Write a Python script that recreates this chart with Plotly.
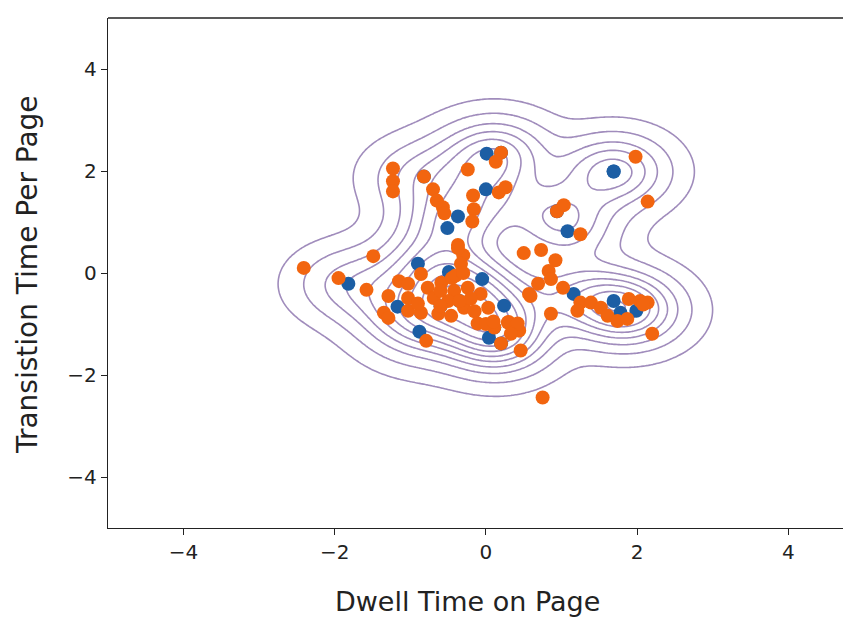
import numpy as np
import plotly.graph_objects as go

# Blue class points (Dwell Time, Transition Time); the last eight lie hidden under other markers
blue_x = [0.01, 0.0, -0.37, -0.51, 1.69, 1.08, -0.90, -0.49, -0.05, 0.24, -1.82, -1.17, -0.88, 0.04, 1.16, 1.69, 1.78, 1.99,
          -0.82, -0.60, -0.35, 0.11, 0.20, 0.94, 0.20, 1.69]
blue_y = [2.34, 1.64, 1.11, 0.88, 1.99, 0.82, 0.18, 0.02, -0.12, -0.64, -0.21, -0.66, -1.15, -1.27, -0.41, -0.55, -0.78, -0.74,
          1.89, -0.65, -0.55, -1.07, -1.38, 1.21, 2.36, 1.99]

# Orange class points
orange_x = [-1.23, -1.23, -1.23, -0.82, -0.70, -0.65, -0.57, -0.55, -0.24, 0.20, 0.13, -0.17, -0.16, -0.18,
            0.17, 0.26, -0.37, -0.30, -0.33, -1.49, -2.41, -1.95,
            1.98, 2.14, 0.94, 1.03, 1.25, 0.50, 0.73, 0.92, 0.83, 0.69, 0.59, 0.86, 1.02, 0.86, 1.25, 1.39,
            1.52, 1.61, 1.74, 1.87, 1.89, 2.04, 2.14, 2.20, 1.21, 0.75, 0.46, 0.30, 0.44, 0.20,
            -1.58, -1.29, -1.15, -1.35, -1.29, -0.86, -1.03, -0.77, -0.59, -0.42, -0.24, -0.07, 0.03,
            -1.03, -0.86, -0.63, -0.46, -0.29, -0.11, 0.11, 0.29, 0.42, 0.33, -0.79, -0.69, -0.50, -1.03,
            0.57, -0.37, -0.45, -0.20, -0.35, -0.60, -0.90, -0.15, 0.00, -0.40, -0.30, -0.60, 0.10, 2.08]
orange_y = [2.05, 1.80, 1.60, 1.89, 1.64, 1.42, 1.29, 1.17, 2.03, 2.36, 2.18, 1.52, 1.25, 1.01,
            1.58, 1.68, 0.55, 0.35, 0.18, 0.33, 0.10, -0.10,
            2.28, 1.40, 1.21, 1.33, 0.76, 0.39, 0.45, 0.25, 0.04, -0.21, -0.45, -0.12, -0.29, -0.80, -0.58, -0.58,
            -0.68, -0.84, -0.94, -0.90, -0.51, -0.55, -0.58, -1.19, -0.74, -2.44, -1.52, -0.96, -1.13, -1.38,
            -0.33, -0.45, -0.16, -0.78, -0.88, -0.02, -0.21, -0.29, -0.19, -0.35, -0.29, -0.41, -0.68,
            -0.74, -0.78, -0.80, -0.84, -0.68, -0.99, -1.07, -0.97, -0.99, -1.19, -1.33, -0.49, -0.55, -0.49,
            -0.41, 0.49, -0.10, -0.50, -0.55, -0.65, -0.60, -0.75, -1.00, -0.05, 0.00, -0.35, -0.95, -0.62]

x_ticks = [-4, -2, 0, 2, 4]
y_ticks = [-4, -2, 0, 2, 4]
tick_text = ["\u22124", "\u22122", "0", "2", "4"]

# Gaussian KDE of the blue class, in units of one kernel's peak height
bw = 0.45
outer_level = 0.12   # outermost contour
step = 0.44          # spacing of the inner contours
pts = np.vstack([blue_x, blue_y])
n = pts.shape[1]
gx = np.linspace(-5, 5, 320)
gy = np.linspace(-5, 5, 320)
XX, YY = np.meshgrid(gx, gy)
Z = np.zeros_like(XX)
for i in range(n):
    Z += np.exp(-0.5 * (((XX - pts[0, i]) / bw) ** 2 + ((YY - pts[1, i]) / bw) ** 2))

line_col = "#a08cbc"
fig = go.Figure()
fig.add_trace(go.Contour(
    x=gx, y=gy, z=Z,
    contours=dict(start=outer_level, end=outer_level * 1.0001, size=Z.max(), coloring="lines"),
    colorscale=[[0, line_col], [1, line_col]],
    line=dict(width=1.6),
    showscale=False, hoverinfo="skip",
))
fig.add_trace(go.Contour(
    x=gx, y=gy, z=Z,
    contours=dict(start=step, end=Z.max(), size=step, coloring="lines"),
    colorscale=[[0, line_col], [1, line_col]],
    line=dict(width=1.6),
    showscale=False, hoverinfo="skip",
))
fig.add_trace(go.Scatter(x=blue_x, y=blue_y, mode="markers",
                         marker=dict(size=14, color="#1c5ea4", line=dict(width=0)), showlegend=False))
fig.add_trace(go.Scatter(x=orange_x, y=orange_y, mode="markers",
                         marker=dict(size=14, color="#f2650f", line=dict(width=0)), showlegend=False))

ink = "#222222"
tick_font = dict(family="DejaVu Sans", size=20, color=ink)
fig.update_layout(
    width=843, height=609,
    margin=dict(l=100, r=0, t=10, b=89, autoexpand=False),
    paper_bgcolor="white", plot_bgcolor="white",
    showlegend=False,
    xaxis=dict(range=[-5, 4.83], tickvals=x_ticks, ticktext=tick_text, automargin=False,
               showgrid=False, zeroline=False, showline=True, linecolor=ink, linewidth=1.3,
               ticks="outside", ticklen=6, tickcolor=ink, tickfont=tick_font),
    yaxis=dict(range=[-5, 5], tickvals=y_ticks, ticktext=tick_text, automargin=False,
               showgrid=False, zeroline=False, showline=True, linecolor=ink, linewidth=1.3,
               ticks="outside", ticklen=6, tickcolor=ink, tickfont=tick_font),
    shapes=[dict(type="line", xref="paper", yref="paper", x0=0, x1=1, y0=1, y1=1,
                 line=dict(color=ink, width=1.3))],
    annotations=[
        dict(text="Dwell Time on Page", xref="paper", yref="paper", x=0.4845, y=-0.145,
             xanchor="center", yanchor="middle", showarrow=False,
             font=dict(family="DejaVu Sans", size=27, color=ink)),
        dict(text="Transistion Time Per Page", xref="paper", yref="paper", x=-0.109, y=0.496,
             xanchor="center", yanchor="middle", textangle=-90, showarrow=False,
             font=dict(family="DejaVu Sans", size=28, color=ink)),
    ],
)
fig.write_html("out.html")
